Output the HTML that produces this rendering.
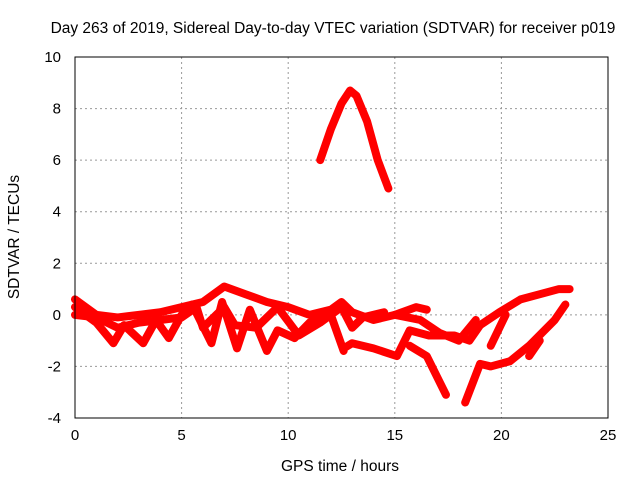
<!DOCTYPE html>
<html><head><meta charset="utf-8"><style>
body{margin:0;background:#fff}
svg{display:block;font-family:"Liberation Sans",sans-serif;font-size:15px}
</style></head><body>
<svg id="chart" width="640" height="480">
<text x="333" y="33" text-anchor="middle" style="font-size:15.5px">Day 263 of 2019, Sidereal Day-to-day VTEC variation (SDTVAR) for receiver p019</text>
<text x="340" y="471" text-anchor="middle" style="font-size:15.5px">GPS time / hours</text>
<text transform="translate(19,237) rotate(-90)" text-anchor="middle" style="font-size:15.5px">SDTVAR / TECUs</text>
<g id="grid"></g><g id="series"></g><g id="axes"></g>
</svg>
<script>
const xTicks=[0,5,10,15,20,25];
const yTicks=[-4,-2,0,2,4,6,8,10];
const seriesPeak=[[11.5,6.0],[12,7.2],[12.5,8.2],[12.9,8.7],[13.2,8.5],[13.7,7.5],[14.2,6.0],[14.7,4.9]];
const seriesA=[[0,0.6],[1,0],[2,-0.1],[3,0],[4,0.1],[5,0.3],[6,0.5],[7,1.1],[8,0.8],[9,0.5],[10,0.3],[11,0],[12,0.2],[12.5,0.5],[13,0.1],[14,-0.2],[15,0],[16,0.3],[16.5,0.2]];
const seriesB=[[0,0.3],[1,-0.3],[1.8,-1.1],[2.3,-0.4],[3.2,-1.1],[3.8,-0.2],[4.4,-0.9],[5,0],[5.5,0.4],[6.4,-1.1],[6.9,0.5],[7.6,-1.3],[8.2,0.2],[9,-1.4],[9.5,-0.6],[10.3,-0.9],[11,-0.3],[12,0],[12.6,-1.4]];
const seriesC=[[0,0],[1,-0.1],[2,-0.5],[3,-0.3],[4,-0.2],[5,-0.1],[5.7,0.3],[6,-0.5],[7,0.3],[7.5,-0.4],[8.5,-0.5],[9.5,0.3],[10.5,-0.8],[11.5,-0.3],[12.5,0.3],[13,-0.5],[13.5,-0.1],[14.5,0.1]];
const seriesD=[[12.6,-1.3],[13,-1.1],[14,-1.3],[15.1,-1.6],[15.7,-0.6],[16.6,-0.8],[17.8,-0.8],[18.5,-1.0],[19,-0.4],[19.9,0.1],[20.9,0.6],[22.7,1.0],[23.2,1.0]];
const seriesE=[[15.7,-1.2],[16.5,-1.6],[17.4,-3.1]];
const seriesF=[[18.3,-3.4],[19,-1.9],[19.5,-2.0],[20.4,-1.8],[21.3,-1.2],[22.5,-0.2],[23,0.4]];
const seriesG=[[15,0],[16.2,-0.2],[17.1,-0.7],[18,-1.0],[18.8,-0.2]];
const seriesH=[[19.5,-1.2],[20.2,0]];
const seriesI=[[21.3,-1.6],[21.8,-1.0]];
const allSeries=[seriesPeak,seriesA,seriesB,seriesC,seriesD,seriesE,seriesF,seriesG,seriesH,seriesI];
const X0=75,X1=608,Y0=418,Y1=57;
const sx=t=>X0+(t-0)/(25-0)*(X1-X0);
const sy=v=>Y0-(v+4)/(14)*(Y0-Y1);
const NS="http://www.w3.org/2000/svg";
const mk=(tag,at,parent)=>{const e=document.createElementNS(NS,tag);for(const k in at)e.setAttribute(k,at[k]);parent.appendChild(e);return e;};
const grid=document.getElementById('grid'),axes=document.getElementById('axes'),ser=document.getElementById('series');
xTicks.forEach(t=>{
 if(t>0&&t<25){const l=mk('line',{x1:sx(t),x2:sx(t),y1:Y1,y2:Y0,stroke:'#999','stroke-dasharray':'2,3'},grid);
 
 }
 const tx=mk('text',{x:sx(t),y:Y0+22,'text-anchor':'middle'},axes);tx.textContent=t;
 
 
});
yTicks.forEach(v=>{
 if(v>-4&&v<10){const l=mk('line',{x1:X0,x2:X1,y1:sy(v),y2:sy(v),stroke:'#999','stroke-dasharray':'2,3'},grid);
 
 }
 const tx=mk('text',{x:X0-14,y:sy(v)+5,'text-anchor':'end'},axes);tx.textContent=v;
 
 
});
const box=mk('rect',{x:X0,y:Y1,width:X1-X0,height:Y0-Y1,fill:'none',stroke:'#000'},axes);


allSeries.forEach(s=>{
 const p=mk('polyline',{points:s.map(d=>sx(d[0])+','+sy(d[1])).join(' '),fill:'none',stroke:'#f00','stroke-width':8,'stroke-linejoin':'round','stroke-linecap':'round'},ser);
 
 
});
</script>
</body></html>
